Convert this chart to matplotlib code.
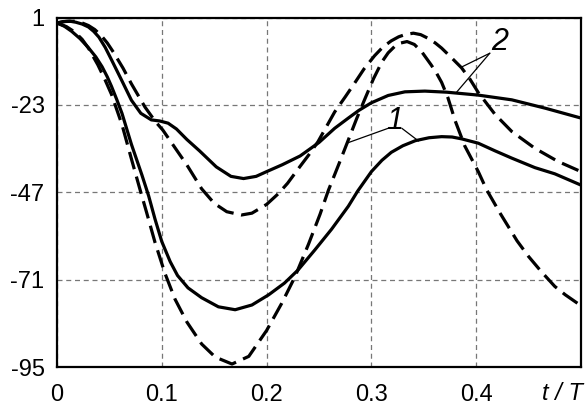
import matplotlib
matplotlib.use("Agg")
import matplotlib.pyplot as plt

plt.rcParams['font.family'] = ['Liberation Sans', 'DejaVu Sans']

# Curve 2 (solid)
t_s2 = [0, 0.006, 0.012, 0.018, 0.024, 0.030, 0.035, 0.040, 0.046, 0.052, 0.062, 0.071, 0.080,
        0.090, 0.098, 0.106, 0.114, 0.124, 0.136, 0.152, 0.166, 0.178, 0.190, 0.200, 0.215,
        0.232, 0.250, 0.265, 0.278, 0.288, 0.300, 0.316, 0.332, 0.351, 0.372, 0.402, 0.434,
        0.466, 0.500]
y_s2 = [-0.5, -0.1, 0.0, -0.3, -0.8, -1.6, -2.8, -4.4, -7.2, -10.6, -16.4, -21.7, -25.3,
        -27.1, -27.4, -28.0, -29.6, -32.5, -35.6, -40.0, -42.6, -43.2, -42.6, -41.3, -39.4,
        -37.0, -33.3, -29.4, -26.6, -24.5, -22.4, -20.4, -19.4, -19.2, -19.5, -20.3, -21.6,
        -23.9, -26.6]

# Curve 2 (dashed)
t_d2 = [0, 0.008, 0.017, 0.024, 0.030, 0.036, 0.042, 0.048, 0.054, 0.063, 0.071, 0.084,
        0.094, 0.101, 0.112, 0.124, 0.138, 0.150, 0.162, 0.176, 0.186, 0.200, 0.211, 0.220,
        0.230, 0.240, 0.249, 0.257, 0.265, 0.275, 0.284, 0.293, 0.303, 0.311, 0.319, 0.326,
        0.332, 0.340, 0.347, 0.354, 0.361, 0.367, 0.377, 0.386, 0.394, 0.402, 0.418, 0.434,
        0.456, 0.478, 0.500]
y_d2 = [-0.5, -0.1, 0.0, -0.5, -1.2, -2.3, -3.9, -6.0, -8.6, -12.9, -17.2, -23.6,
        -27.6, -29.9, -34.5, -39.5, -46.0, -50.0, -52.3, -53.2, -52.7, -50.3, -47.4, -44.5,
        -40.6, -36.8, -33.1, -29.0, -24.9, -20.8, -17.0, -13.1, -9.5, -7.1, -5.4, -4.3,
        -3.7, -3.3, -3.7, -4.7, -6.0, -7.4, -10.2, -12.8, -15.9, -19.6, -25.6, -30.3,
        -34.9, -38.5, -41.3]

# Curve 1 (solid)
t_s1 = [0, 0.007, 0.014, 0.022, 0.030, 0.037, 0.043, 0.048, 0.052, 0.057, 0.062, 0.071,
        0.081, 0.0875, 0.0935, 0.100, 0.108, 0.115, 0.125, 0.138, 0.154, 0.170, 0.186, 0.202,
        0.217, 0.230, 0.246, 0.262, 0.278, 0.287, 0.300, 0.310, 0.319, 0.330, 0.342, 0.355,
        0.367, 0.377, 0.386, 0.402, 0.418, 0.434, 0.456, 0.475, 0.500]
y_s1 = [-0.5, -1.4, -2.8, -4.8, -7.3, -9.8, -12.5, -15.3, -17.9, -21.5, -25.3, -33.8,
        -42.2, -48.0, -54.3, -60.5, -66.0, -69.8, -73.2, -75.9, -78.4, -79.2, -77.9, -75.1,
        -71.9, -68.3, -62.8, -57.1, -50.8, -46.6, -41.3, -38.2, -36.0, -34.2, -32.8, -32.0,
        -31.7, -31.8, -32.3, -33.5, -35.6, -37.6, -40.2, -41.9, -45.0]

# Curve 1 (dashed)
t_d1 = [0, 0.009, 0.017, 0.024, 0.030, 0.039, 0.046, 0.052, 0.062, 0.071, 0.079, 0.0855,
        0.0935, 0.103, 0.1126, 0.124, 0.138, 0.151, 0.167, 0.183, 0.200, 0.2145, 0.227,
        0.240, 0.251, 0.259, 0.269, 0.278, 0.286, 0.294, 0.302, 0.310, 0.316, 0.322, 0.328,
        0.334, 0.341, 0.348, 0.357, 0.362, 0.367, 0.373, 0.380, 0.389, 0.402, 0.410, 0.423,
        0.439, 0.450, 0.462, 0.475, 0.485, 0.500]
y_d1 = [-0.5, -1.5, -3.0, -5.0, -7.4, -12.0, -16.2, -20.1, -28.4, -37.8, -46.0, -52.5,
        -60.7, -69.2, -76.3, -82.6, -88.6, -92.2, -94.1, -92.0, -84.9, -77.4, -70.2,
        -61.2, -53.0, -46.4, -39.2, -32.6, -26.7, -21.2, -15.8, -11.2, -8.7, -7.0, -6.0,
        -5.6, -6.4, -8.4, -12.0, -14.2, -16.8, -21.0, -27.4, -34.2, -41.3, -46.3, -52.8,
        -60.3, -64.6, -68.7, -72.8, -75.1, -78.1]

x_ticks = [0, 0.1, 0.2, 0.3, 0.4]
x_ticklabels = ["0", "0.1", "0.2", "0.3", "0.4"]
y_ticks = [1, -23, -47, -71, -95]
y_ticklabels = ["1", "-23", "-47", "-71", "-95"]

fig = plt.figure(figsize=(5.86, 4.07), dpi=100)
ax = fig.add_axes([57 / 586, 1 - 367.3 / 407, (581 - 57) / 586, (367.3 - 17.5) / 407])

lw = 2.3
dash = (5.6, 2.4)
ax.plot(t_s2, y_s2, color='black', lw=lw, solid_capstyle='butt', solid_joinstyle='round', zorder=3)
ax.plot(t_s1, y_s1, color='black', lw=lw, solid_capstyle='butt', solid_joinstyle='round', zorder=3)
ax.plot(t_d2, y_d2, color='black', lw=lw, dashes=dash, dash_capstyle='butt', zorder=3)
ax.plot(t_d1, y_d1, color='black', lw=lw, dashes=dash, dash_capstyle='butt', zorder=3)

ax.set_xlim(0, 0.5)
ax.set_ylim(-95, 1)
ax.set_xticks(x_ticks)
ax.set_xticklabels(x_ticklabels)
ax.set_yticks(y_ticks)
ax.set_yticklabels(y_ticklabels)
ax.tick_params(axis='both', length=0, labelsize=17)
ax.tick_params(axis='x', pad=12)
ax.tick_params(axis='y', pad=9)

ax.grid(True, color='#777777', lw=0.9, linestyle=(0, (4, 3)))
for s in ax.spines.values():
    s.set_linewidth(1.6)
    s.set_color('black')

# Labels with leader lines
lp = dict(arrowstyle='-', lw=0.9, color='black', shrinkA=0, shrinkB=0)
ax.text(0.3225, -27.4, "1", fontsize=22, style='italic', ha='center', va='center')
ax.annotate("", xy=(0.2764, -33.5), xytext=(0.318, -29.2), arrowprops=lp)
ax.annotate("", xy=(0.345, -32.9), xytext=(0.329, -29.4), arrowprops=lp)

ax.text(0.4227, -5.7, "2", fontsize=22, style='italic', ha='center', va='center')
ax.annotate("", xy=(0.386, -12.6), xytext=(0.413, -8.8), arrowprops=lp)
ax.annotate("", xy=(0.381, -19.6), xytext=(0.413, -8.8), arrowprops=lp)

fig.text(562 / 586, 1 - 393 / 407, "t / T", fontsize=17, style='italic',
         ha='center', va='center')

fig.savefig("out.png", dpi=100)
